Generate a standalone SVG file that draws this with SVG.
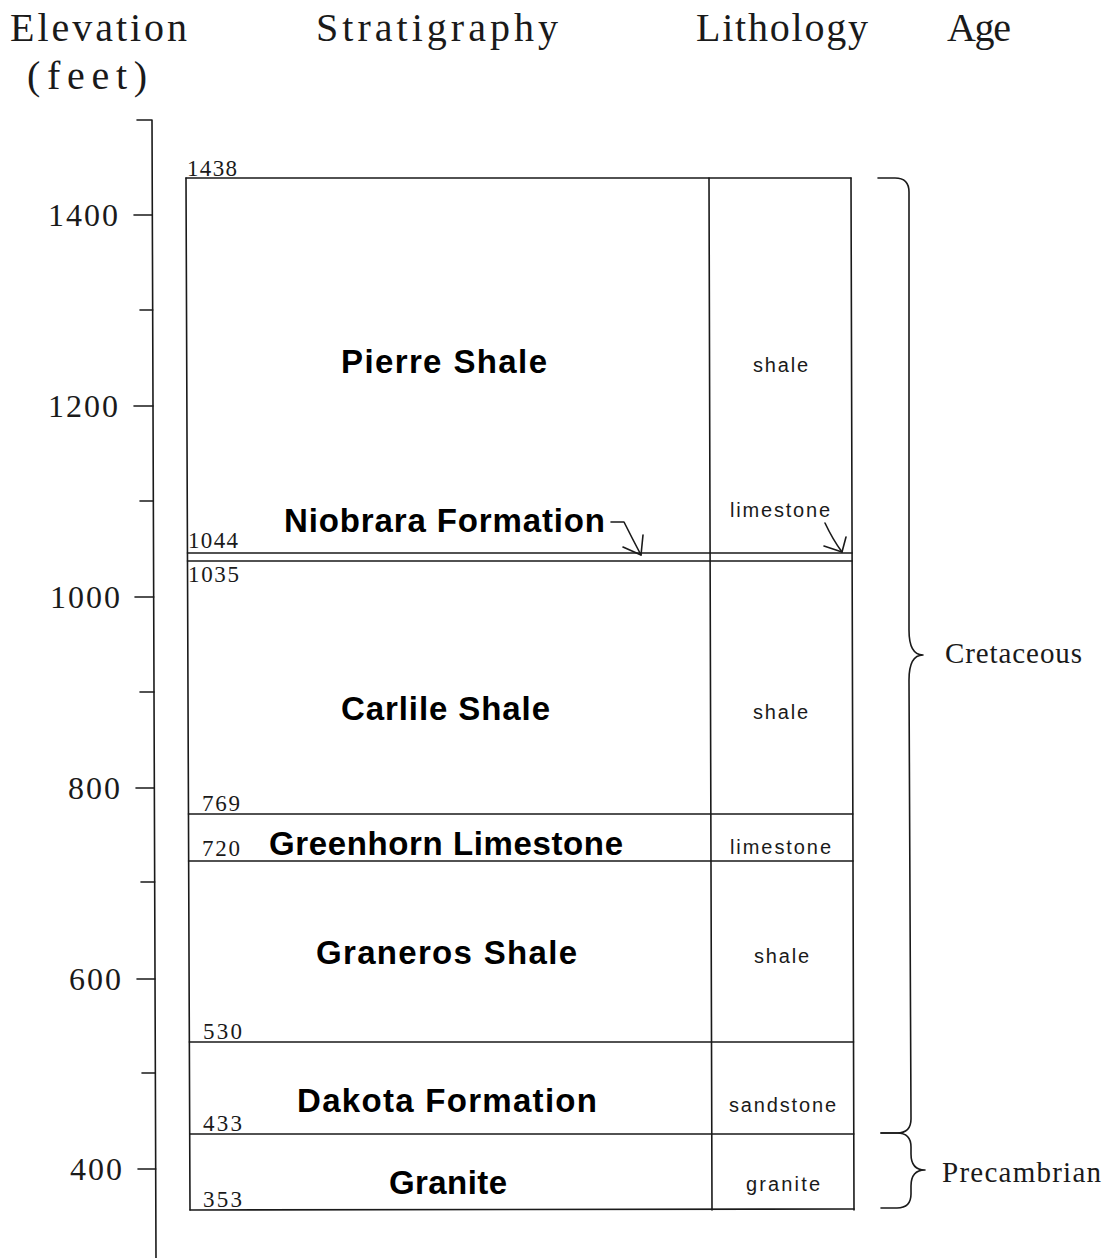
<svg xmlns="http://www.w3.org/2000/svg" width="1107" height="1258" viewBox="0 0 1107 1258">
<style>
.ln{stroke:#1a1a1a;stroke-width:1.6;fill:none;stroke-linecap:round;stroke-linejoin:round}
.hd{font-family:"Liberation Serif",serif;font-size:40px;fill:#1a1a1a}
.tk{font-family:"Liberation Serif",serif;font-size:32px;fill:#1a1a1a}
.el{font-family:"Liberation Serif",serif;font-size:23px;fill:#1a1a1a}
.fm{font-family:"Liberation Sans",Arial,sans-serif;font-size:33px;font-weight:bold;fill:#000}
.li{font-family:"Liberation Sans",Arial,sans-serif;font-size:20px;fill:#1a1a1a}
.ag{font-family:"Liberation Serif",serif;font-size:29px;fill:#1a1a1a}
</style>
<rect width="1107" height="1258" fill="#fff"/>
<g id="headers">
<text class="hd" x="10" y="41" textLength="177" lengthAdjust="spacing">Elevation</text>
<text class="hd" x="27" y="89" textLength="120" lengthAdjust="spacing">(feet)</text>
<text class="hd" x="316" y="41" textLength="242" lengthAdjust="spacing">Stratigraphy</text>
<text class="hd" x="696" y="41" textLength="172" lengthAdjust="spacing">Lithology</text>
<text class="hd" x="947" y="41" textLength="64" lengthAdjust="spacing">Age</text>
</g>
<g id="axis">
<path class="ln" d="M137,120 L152,120 L156,1258"/>
<path class="ln" d="M134,215 L152.3,215 M140,310 L152.7,310 M134,406 L153,406 M140,501 L153.3,501 M135,597 L153.7,597 M140,692 L154,692 M136,788 L154.3,788 M141,882 L154.7,882 M137,979 L155,979 M142,1073 L155.3,1073 M138,1169 L155.7,1169"/>
<text class="tk" x="48" y="226" textLength="70" lengthAdjust="spacing">1400</text>
<text class="tk" x="48" y="417" textLength="70" lengthAdjust="spacing">1200</text>
<text class="tk" x="50" y="608" textLength="70" lengthAdjust="spacing">1000</text>
<text class="tk" x="68" y="799" textLength="52" lengthAdjust="spacing">800</text>
<text class="tk" x="69" y="990" textLength="52" lengthAdjust="spacing">600</text>
<text class="tk" x="70" y="1180" textLength="52" lengthAdjust="spacing">400</text>
</g>
<g id="column-frame">
<path class="ln" d="M186,178 L190,1210 M709,178 L712,1210 M851,178 L854,1210"/>
<path class="ln" d="M186,178 L851,178 M187.5,553 L852.1,553 M187.5,561 L852.1,561 M188.5,814 L852.8,814 M188.6,861 L853,861 M189.4,1042 L853.5,1042 M189.7,1134 L853.8,1134 M190,1210 L854,1209"/>
</g>
<g id="pierre-shale">
<text class="el" x="187" y="176" textLength="50" lengthAdjust="spacing">1438</text>
<text class="fm" x="341" y="373" textLength="206" lengthAdjust="spacing">Pierre Shale</text>
<text class="li" x="753" y="372" textLength="55" lengthAdjust="spacing">shale</text>
</g>
<g id="niobrara-formation">
<text class="el" x="188" y="548" textLength="50" lengthAdjust="spacing">1044</text>
<text class="fm" x="284" y="532" textLength="321" lengthAdjust="spacing">Niobrara Formation</text>
<text class="li" x="730" y="517" textLength="100" lengthAdjust="spacing">limestone</text>
</g>
<g id="carlile-shale">
<text class="el" x="188" y="582" textLength="51" lengthAdjust="spacing">1035</text>
<text class="fm" x="341" y="720" textLength="209" lengthAdjust="spacing">Carlile Shale</text>
<text class="li" x="753" y="719" textLength="55" lengthAdjust="spacing">shale</text>
</g>
<g id="greenhorn-limestone">
<text class="el" x="202" y="811" textLength="38" lengthAdjust="spacing">769</text>
<text class="el" x="202" y="856" textLength="38" lengthAdjust="spacing">720</text>
<text class="fm" x="269" y="855" textLength="354" lengthAdjust="spacing">Greenhorn Limestone</text>
<text class="li" x="730" y="854" textLength="101" lengthAdjust="spacing">limestone</text>
</g>
<g id="graneros-shale">
<text class="el" x="203" y="1039" textLength="39" lengthAdjust="spacing">530</text>
<text class="fm" x="316" y="964" textLength="261" lengthAdjust="spacing">Graneros Shale</text>
<text class="li" x="754" y="963" textLength="55" lengthAdjust="spacing">shale</text>
</g>
<g id="dakota-formation">
<text class="el" x="203" y="1131" textLength="39" lengthAdjust="spacing">433</text>
<text class="fm" x="297" y="1112" textLength="300" lengthAdjust="spacing">Dakota Formation</text>
<text class="li" x="729" y="1112" textLength="107" lengthAdjust="spacing">sandstone</text>
</g>
<g id="granite">
<text class="el" x="203" y="1207" textLength="39" lengthAdjust="spacing">353</text>
<text class="fm" x="389" y="1194" textLength="118" lengthAdjust="spacing">Granite</text>
<text class="li" x="746" y="1191" textLength="74" lengthAdjust="spacing">granite</text>
</g>
<g id="cretaceous">
<path class="ln" d="M878,178 L895,178 Q909,178 909,192 L909,630 C909,648 915,655 923,655 C915,655 909,662 909,680 L911,1119 Q911,1133 897,1133 L881,1133"/>
<text class="ag" x="945" y="663" textLength="137" lengthAdjust="spacing">Cretaceous</text>
</g>
<g id="precambrian">
<path class="ln" d="M881,1133 L897,1133 Q911,1133 911,1147 L911,1154 C911,1165 916,1170 925,1170 C916,1170 911,1175 911,1186 L911,1194 Q911,1208 897,1208 L881,1208"/>
<text class="ag" x="942" y="1182" textLength="159" lengthAdjust="spacing">Precambrian</text>
</g>
<g id="connectors">
<path class="ln" d="M611,522 L624,522 Q632,538 641,555"/>
<path class="ln" d="M623,547 L641,555 L643,535"/>
<path class="ln" d="M825,523 Q833,540 842,552"/>
<path class="ln" d="M824,546 L842,552 L846,537"/>
</g>
</svg>
